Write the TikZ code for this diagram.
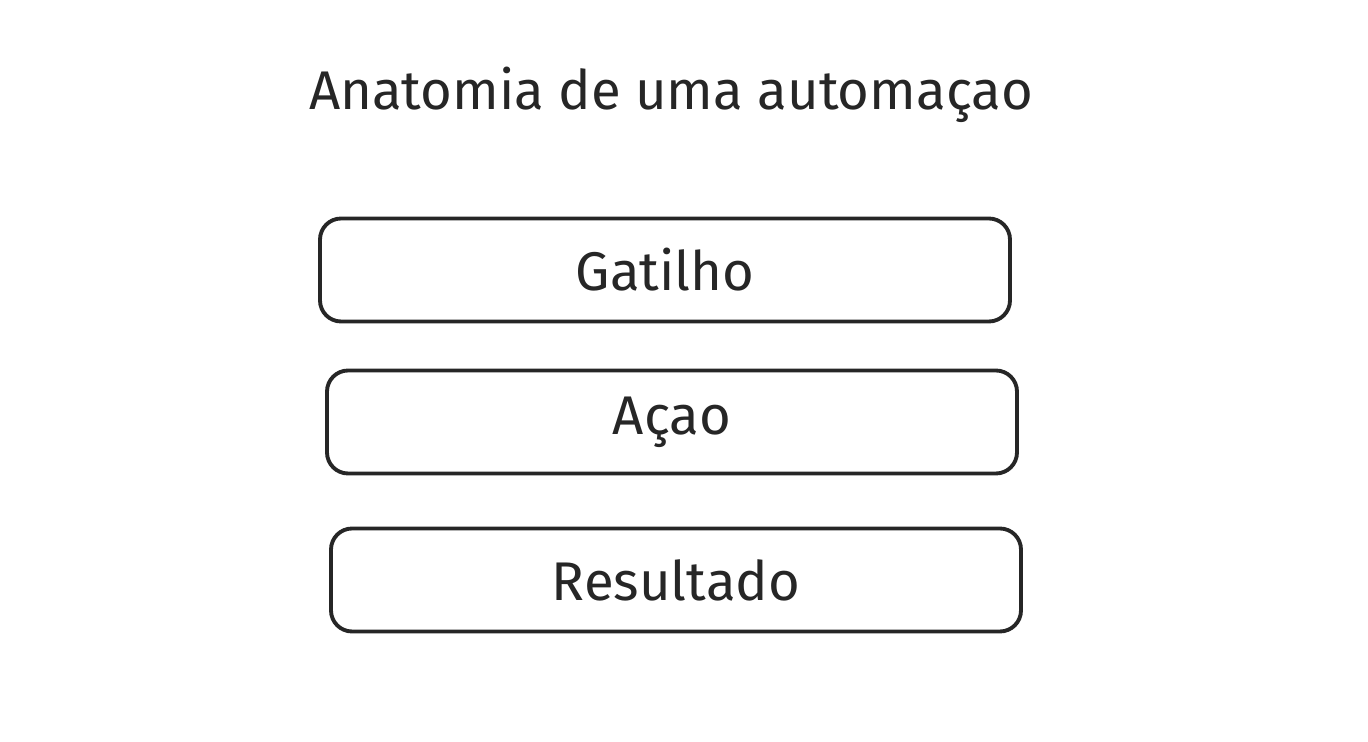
\documentclass[tikz,border=0pt]{standalone}
\usepackage{fontspec}
\setmainfont{Fira Sans}
\usetikzlibrary{positioning}

\begin{document}
\begin{tikzpicture}[x=0.2mm,y=0.2mm,
  caixa/.style={draw=black!85,line width=2.2pt,rounded corners=12pt,
    minimum width=13.8cm,minimum height=2.06cm,inner sep=0pt,
    font=\fontsize{31}{36}\selectfont,text=black!85},
  titulo/.style={font=\fontsize{31}{36}\selectfont,text=black!85,inner sep=0pt}]

\useasboundingbox[fill=white] (0,0) rectangle (1368,-742);
\node[titulo] (tit) at (671,-95) {Anatomia de uma automaçao};
\node[caixa] (gat) at (665,-270) {Gatilho};
\node[caixa] (aca) at (672,-422) {Açao};
\node[caixa] (res) at (676,-580) {Resultado};
\end{tikzpicture}
\end{document}
